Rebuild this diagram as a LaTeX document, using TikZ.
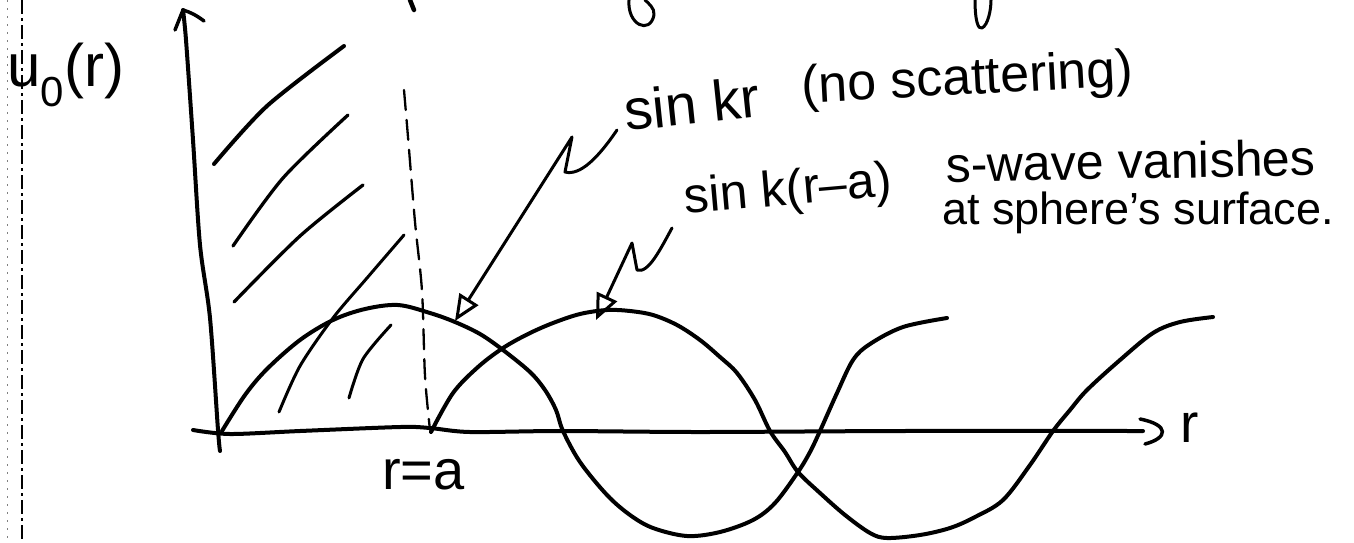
\documentclass[tikz,border=0pt]{standalone}
\usepackage{fontspec}
\setmainfont{Liberation Sans}
\usetikzlibrary{arrows.meta}
\newcommand\HWsize[1]{\fontsize{#1}{#1}\selectfont}
\begin{document}
\begin{tikzpicture}[x=1pt,y=-1pt,
  ink/.style={line width=4pt, line cap=round, line join=round},
  hatchline/.style={line width=3.3pt, line cap=round},
  txt/.style={inner sep=0pt, anchor=base west},
  pointer/.style={line width=3pt, line cap=round, line join=round,
    -{Triangle[open,length=26pt,width=22pt,line width=3pt]}},
  edge/.style={line width=1.6pt, dash pattern=on 14pt off 4pt on 3pt off 4pt},
  faint/.style={line width=0.6pt, gray, dash pattern=on 2pt off 6pt},
]
\path[fill=white, use as bounding box] (0,0) rectangle (1354,542);

% page-edge marks of the scan
\draw[edge] (22,0) -- (22,542);
\draw[faint] (7,0) -- (7,542);

% cut-off strokes at the top edge
\draw[ink, line width=4.5pt] (410,0) -- (414,10);
\draw[ink, line width=3pt] (629,0) .. controls (627,25) and (650,35) .. (654,15) .. controls (655,8) and (648,3) .. (645,0);
\draw[ink, line width=3pt] (975,0) .. controls (975,20) and (978,30) .. (982,28) .. controls (988,25) and (991,10) .. (991,0);

% key points
\coordinate (O) at (222,431);
\coordinate (A) at (431,432);
\coordinate (ytop) at (183,10);
\coordinate (xend) at (1143,431);

% axes
\draw[ink] plot[smooth, tension=0.5] coordinates {(220,451) (218,430) (210,318) (200,245) (193,140) (186,40) (ytop)};
\draw[ink, line width=3.5pt] (175,30) -- (ytop) .. controls (190,12) and (196,15) .. (204,21);
\draw[ink] plot[smooth, tension=0.5] coordinates {(193,430) (230,434) (300,431) (400,427) (430,428) (470,432) (560,431) (700,432) (900,431) (xend)};
\draw[ink, line width=3.5pt] (1140,419) .. controls (1170,425) and (1168,438) .. (1145,444);

% hatching (inside the hard sphere)
\draw[hatchline, line width=4pt] plot[smooth] coordinates {(214,164) (267,106) (344,46)};
\draw[hatchline] plot[smooth] coordinates {(233,246) (283,178) (348,115)};
\draw[hatchline] plot[smooth] coordinates {(234,302) (300,236) (363,185)};
\draw[hatchline, line width=3pt] plot[smooth] coordinates {(279,412) (300,366) (333,318) (367,278) (404,235)};
\draw[hatchline, line width=3pt] plot[smooth] coordinates {(349,398) (363,359) (391,325)};

% r = a dashed line
\draw[line width=2.3pt, line cap=round, dash pattern=on 20pt off 10pt] plot[smooth] coordinates {(404,90) (408,137) (415,222) (422,291) (425,376) (430,430)};

% sin kr
\draw[ink] plot[smooth, tension=0.55] coordinates {(O) (245,395) (267,369) (300,340) (333,320) (365,309) (398,305) (430,313) (455,322) (480,334) (503,350) (530,372) (545,390) (556,410) (563,431) (580,462) (607,495) (630,515) (653,528) (687,536) (720,532) (753,520) (775,503) (798,472) (810,452) (820,431) (837,393) (853,360) (870,344) (903,327) (947,318)};

% sin k(r-a)
\draw[ink] plot[smooth, tension=0.55] coordinates {(A) (453,393) (478,367) (503,348) (528,334) (553,323) (580,314) (607,310) (630,311) (653,315) (677,325) (700,340) (720,357) (737,373) (755,400) (770,431) (785,452) (798,472) (820,493) (845,515) (870,533) (887,538) (920,535) (950,528) (975,517) (1003,500) (1030,465) (1053,431) (1070,410) (1087,390) (1120,360) (1153,333) (1180,322) (1213,317)};

% labels
\node[txt] (ulabel) at (7,86) {\HWsize{60}u\textsubscript{0}(r)};
\node[txt] (raxis) at (1180,442) {\HWsize{55}r};
\node[txt] (rlabel) at (382,489) {\HWsize{56}r=a};
\node[txt, rotate=6] (sinkr) at (626,131) {\HWsize{57}sin kr};
\node[txt, rotate=3] (nosc) at (802,103) {\HWsize{52}(no scattering)};
\node[txt, rotate=5] (sinkra) at (685,214) {\HWsize{50}sin k(r–a)};
\node[txt, rotate=1] (swave) at (946,182) {\HWsize{50}s-wave vanishes};
\node[txt] (atsph) at (942,224) {\HWsize{45}at sphere’s surface.};

% pointers
\coordinate (tip1) at (455,321);
\coordinate (tip2) at (596,320);
\coordinate (start1) at (617,130);
\coordinate (start2) at (672,228);
\draw[pointer] (start1) .. controls (598,158) and (580,176) .. (565,172) -- (572,137) -- (tip1);
\draw[pointer] (start2) .. controls (660,250) and (648,274) .. (637,270) -- (632,243) -- (tip2);
\end{tikzpicture}
\end{document}
